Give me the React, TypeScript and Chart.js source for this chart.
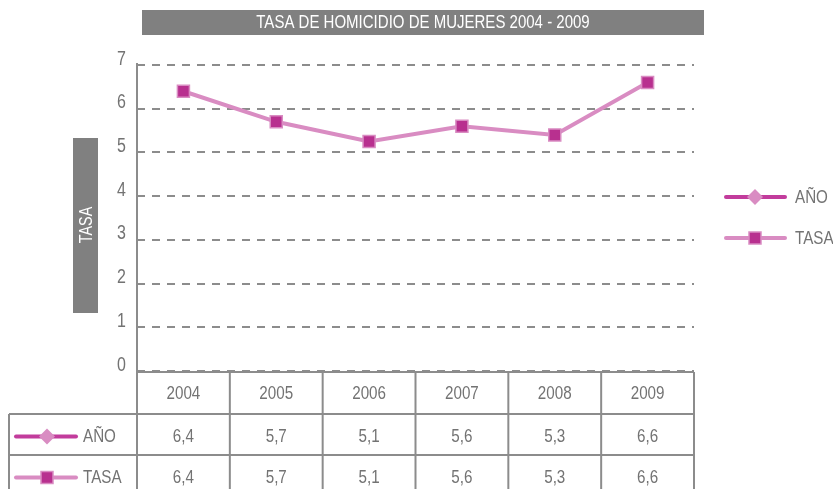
import React, { useEffect, useRef } from "react";
import { Chart, registerables } from "chart.js";

Chart.register(...registerables);

const TITLE = "TASA DE HOMICIDIO DE MUJERES 2004 - 2009";
const Y_TITLE = "TASA";
const years = ["2004", "2005", "2006", "2007", "2008", "2009"];
const tasaPlotted = [6.4, 5.7, 5.25, 5.6, 5.4, 6.6];
const seriesNames = ["AÑO", "TASA"];
const anoTable = ["6,4", "5,7", "5,1", "5,6", "5,3", "6,6"];
const tasaTable = ["6,4", "5,7", "5,1", "5,6", "5,3", "6,6"];
const yTicks = [0, 1, 2, 3, 4, 5, 6, 7];
const yMin = 0;
const yMax = 7;

const FONT = '"Liberation Sans", Arial, sans-serif';
const NARROW = 0.8;
const GRAY_BOX = "#808080";
const TEXT_GRAY = "#737373";
const LINE_GRAY = "#8c8c8c";
const PINK_LIGHT = "#d98cc2";
const MAGENTA = "#b8308f";
const ANO_LINE = "#c23c9c";

function narrowText(
  ctx: CanvasRenderingContext2D,
  text: string,
  x: number,
  y: number,
  size: number,
  color: string,
  align: CanvasTextAlign,
  sx: number = NARROW
) {
  ctx.save();
  ctx.font = `${size}px ${FONT}`;
  ctx.fillStyle = color;
  ctx.textBaseline = "middle";
  ctx.textAlign = align;
  ctx.translate(x, y);
  ctx.scale(sx, 1);
  ctx.fillText(text, 0, 0);
  ctx.restore();
}

function drawLegendSymbol(ctx: CanvasRenderingContext2D, kind: "diamond" | "square", x1: number, x2: number, cx: number, cy: number) {
  ctx.save();
  ctx.lineCap = "round";
  ctx.lineWidth = 4;
  ctx.strokeStyle = kind === "diamond" ? ANO_LINE : PINK_LIGHT;
  ctx.beginPath();
  ctx.moveTo(x1, cy);
  ctx.lineTo(x2, cy);
  ctx.stroke();
  if (kind === "diamond") {
    ctx.fillStyle = PINK_LIGHT;
    ctx.beginPath();
    ctx.moveTo(cx, cy - 8);
    ctx.lineTo(cx + 8, cy);
    ctx.lineTo(cx, cy + 8);
    ctx.lineTo(cx - 8, cy);
    ctx.closePath();
    ctx.fill();
  } else {
    ctx.fillStyle = MAGENTA;
    ctx.fillRect(cx - 6, cy - 6, 12, 12);
    ctx.lineWidth = 1.5;
    ctx.strokeStyle = PINK_LIGHT;
    ctx.strokeRect(cx - 6, cy - 6, 12, 12);
  }
  ctx.restore();
}

const decor = {
  id: "decor",
  beforeDraw(chart: any) {
    const ctx: CanvasRenderingContext2D = chart.ctx;
    ctx.save();
    // title bar
    ctx.fillStyle = GRAY_BOX;
    ctx.fillRect(142, 10, 562, 25);
    narrowText(ctx, TITLE, 423, 23, 19, "#ffffff", "center", 0.79);
    // y title box
    ctx.fillStyle = GRAY_BOX;
    ctx.fillRect(73, 138, 25, 175);
    ctx.translate(86, 225);
    ctx.rotate(-Math.PI / 2);
    narrowText(ctx, Y_TITLE, 0, 1, 18, "#ffffff", "center");
    ctx.restore();
  },
  afterDraw(chart: any) {
    const ctx: CanvasRenderingContext2D = chart.ctx;
    const area = chart.chartArea;
    const xs = chart.scales.x;
    const ys = chart.scales.y;
    const n = years.length;
    const colW = (area.right - area.left) / n;
    const top = area.bottom + 1;
    const r1 = top + 42;
    const r2 = r1 + 41;
    const r3 = r2 + 41;
    const labelLeft = 9;
    ctx.save();
    // y tick labels
    for (const t of yTicks) {
      narrowText(ctx, String(t), area.left - 11, ys.getPixelForValue(t) - 6, 20, TEXT_GRAY, "right");
    }
    ctx.strokeStyle = LINE_GRAY;
    ctx.lineWidth = 2;
    // y axis line
    ctx.beginPath();
    ctx.moveTo(area.left, area.top - 2);
    ctx.lineTo(area.left, r3);
    ctx.stroke();
    // horizontal table lines
    ctx.beginPath();
    ctx.moveTo(area.left, top);
    ctx.lineTo(area.right, top);
    ctx.moveTo(labelLeft, r1);
    ctx.lineTo(area.right, r1);
    ctx.moveTo(labelLeft, r2);
    ctx.lineTo(area.right, r2);
    ctx.moveTo(labelLeft, r1);
    ctx.lineTo(labelLeft, r3);
    for (let i = 1; i <= n; i++) {
      const x = area.left + i * colW;
      ctx.moveTo(x, top);
      ctx.lineTo(x, r3);
    }
    ctx.stroke();
    // texts
    for (let i = 0; i < n; i++) {
      const cx = xs.getPixelForValue(i);
      narrowText(ctx, years[i], cx, (top + r1) / 2 + 1, 19, TEXT_GRAY, "center");
      narrowText(ctx, anoTable[i], cx, (r1 + r2) / 2 + 2, 19, TEXT_GRAY, "center");
      narrowText(ctx, tasaTable[i], cx, (r2 + r3) / 2 + 2, 19, TEXT_GRAY, "center");
    }
    // row labels
    drawLegendSymbol(ctx, "diamond", 16, 76, 47, (r1 + r2) / 2 + 2);
    drawLegendSymbol(ctx, "square", 16, 76, 47, (r2 + r3) / 2 + 2);
    narrowText(ctx, seriesNames[0], 83, (r1 + r2) / 2 + 2, 19, TEXT_GRAY, "left");
    narrowText(ctx, seriesNames[1], 83, (r2 + r3) / 2 + 2, 19, TEXT_GRAY, "left");
    // right legend
    drawLegendSymbol(ctx, "diamond", 726, 785, 755, 197);
    drawLegendSymbol(ctx, "square", 726, 785, 755, 238);
    narrowText(ctx, seriesNames[0], 795, 198, 19, TEXT_GRAY, "left");
    narrowText(ctx, seriesNames[1], 795, 239, 19, TEXT_GRAY, "left");
    ctx.restore();
  },
};

export default function App() {
  const ref = useRef<HTMLCanvasElement | null>(null);
  useEffect(() => {
    if (!ref.current) return;
    const chart = new Chart(ref.current, {
      type: "line",
      data: {
        labels: years,
        datasets: [
          {
            label: seriesNames[1],
            data: tasaPlotted,
            borderColor: PINK_LIGHT,
            borderWidth: 4,
            pointStyle: "rect",
            pointRadius: 8.5,
            pointBackgroundColor: MAGENTA,
            pointBorderColor: PINK_LIGHT,
            pointBorderWidth: 1.5,
            tension: 0,
          },
        ],
      },
      options: {
        animation: false,
        responsive: false,
        devicePixelRatio: 1,
        layout: { padding: { left: 107, right: 139, top: 65, bottom: 118 } },
        plugins: { legend: { display: false }, tooltip: { enabled: false }, title: { display: false } },
        scales: {
          x: { type: "category", display: false, offset: true },
          y: {
            min: yMin,
            max: yMax,
            afterFit(scale: any) {
              scale.width = 30;
            },
            ticks: { stepSize: 1, display: false },
            grid: { color: LINE_GRAY, lineWidth: 2, drawTicks: false },
            border: { display: false, dash: [8, 7] },
          },
        },
      },
      plugins: [decor],
    });
    return () => chart.destroy();
  }, []);
  return (
    <div style={{ position: "fixed", left: 0, top: 0, width: 833, height: 489, background: "#fff" }}>
      <canvas ref={ref} width={833} height={489} style={{ display: "block" }} />
    </div>
  );
}
